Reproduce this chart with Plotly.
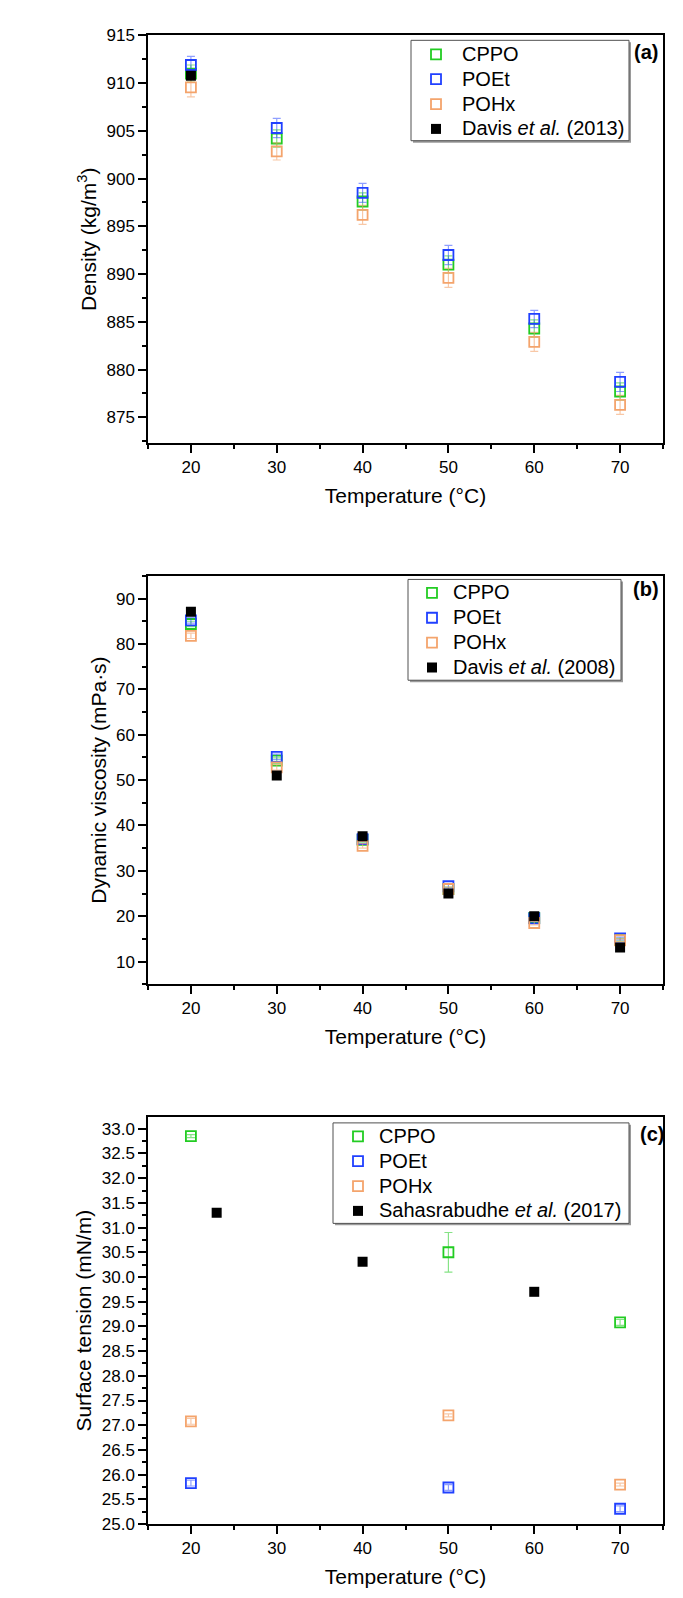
import plotly.graph_objects as go

# ---------------- data ----------------
temps = [20, 30, 40, 50, 60, 70]

# (a) Density (kg/m3)
dens_cppo = [911.0, 904.2, 897.6, 891.0, 884.3, 877.7]
dens_poet = [911.9, 905.3, 898.5, 892.0, 885.3, 878.7]
dens_pohx = [909.55, 902.85, 896.2, 889.6, 882.9, 876.3]
dens_err_cppo = [0.9, 0.9, 0.9, 0.9, 0.9, 0.9]
dens_err_poet = [0.9, 1.0, 1.0, 1.0, 0.9, 1.0]
dens_err_pohx = [1.0, 0.9, 1.0, 1.0, 1.0, 1.0]
davis2013_t = [20]
davis2013_v = [910.76]

# (b) Dynamic viscosity (mPa·s)
visc_cppo = [84.4, 54.3, 36.8, 26.0, 19.6, 14.8]
visc_poet = [85.2, 55.1, 37.0, 26.6, 19.5, 15.1]
visc_pohx = [81.8, 52.8, 35.5, 26.0, 18.5, 14.7]
visc_err = [0.6, 0.6, 0.5, 0.4, 0.4, 0.3]
davis2008_t = [20, 30, 40, 50, 60, 70]
davis2008_v = [87.1, 51.0, 37.6, 25.0, 20.0, 13.1]

# (c) Surface tension (mN/m)
st_temps = [20, 50, 70]
st_cppo = [32.85, 30.5, 29.08]
st_poet = [25.83, 25.74, 25.31]
st_pohx = [27.08, 27.2, 25.8]
st_err_cppo = [0.03, 0.4, 0.06]
st_err_poet = [0.06, 0.06, 0.06]
st_err_pohx = [0.06, 0.03, 0.03]
sahas_t = [23, 40, 60]
sahas_v = [31.3, 30.31, 29.7]

names = ["CPPO", "POEt", "POHx"]
colors = ["#22CC22", "#2040FF", "#F4A46C"]
err_colors = ["rgba(34,204,34,0.55)", "rgba(32,64,255,0.5)", "rgba(244,164,108,0.6)"]

FONT = "Arial, Liberation Sans, sans-serif"
W, H = 683, 1598


def big(txt):
    return '<span style="font-size:20px">' + txt + '</span>'


fig = go.Figure()

panels = [
    dict(xa="x", ya="y", lg="legend",
         series=[dens_cppo, dens_poet, dens_pohx],
         errs=[dens_err_cppo, dens_err_poet, dens_err_pohx],
         xs=temps, ref_x=davis2013_t, ref_y=davis2013_v,
         ref_name="Davis <i>et al.</i> (2013)"),
    dict(xa="x2", ya="y2", lg="legend2",
         series=[visc_cppo, visc_poet, visc_pohx],
         errs=[visc_err, visc_err, visc_err],
         xs=temps, ref_x=davis2008_t, ref_y=davis2008_v,
         ref_name="Davis <i>et al.</i> (2008)"),
    dict(xa="x3", ya="y3", lg="legend3",
         series=[st_cppo, st_poet, st_pohx],
         errs=[st_err_cppo, st_err_poet, st_err_pohx],
         xs=st_temps, ref_x=sahas_t, ref_y=sahas_v,
         ref_name="Sahasrabudhe <i>et al.</i> (2017)"),
]

for p in panels:
    for i in range(3):
        fig.add_trace(go.Scatter(
            x=p["xs"], y=p["series"][i], mode="markers", name=big(names[i]),
            xaxis=p["xa"], yaxis=p["ya"], legend=p["lg"],
            marker=dict(symbol="square-open", size=10, color=colors[i],
                        line=dict(width=1.8, color=colors[i])),
            error_y=dict(type="data", array=p["errs"][i], visible=True,
                         color=err_colors[i], thickness=1.2, width=4),
        ))
    fig.add_trace(go.Scatter(
        x=p["ref_x"], y=p["ref_y"], mode="markers", name=big(p["ref_name"]),
        xaxis=p["xa"], yaxis=p["ya"], legend=p["lg"],
        marker=dict(symbol="square", size=10, color="black",
                    line=dict(width=0)),
    ))


def px_dom_y(top, bottom):
    return [1 - bottom / H, 1 - top / H]


xdom = [148 / W, 663 / W]


def xaxis_cfg(anchor):
    return dict(
        domain=xdom, anchor=anchor, range=[15, 75], dtick=10, tick0=0,
        ticks="outside", ticklen=8, tickwidth=1.5, tickcolor="black",
        showline=True, linecolor="black", linewidth=1.5, mirror=True,
        showgrid=False, zeroline=False,
        tickfont=dict(size=17, color="black", family=FONT),
        minor=dict(ticks="outside", ticklen=4, dtick=5, tickcolor="black",
                   tickwidth=1.5),
        title=dict(text="Temperature (°C)", font=dict(size=21, color="black", family=FONT),
                   standoff=12),
    )


def yaxis_cfg(anchor, dom, rng, dtick, mdtick, title, fmt=None):
    d = dict(
        domain=dom, anchor=anchor, range=rng, dtick=dtick, tick0=0,
        ticks="outside", ticklen=8, tickwidth=1.5, tickcolor="black",
        showline=True, linecolor="black", linewidth=1.5, mirror=True,
        showgrid=False, zeroline=False,
        tickfont=dict(size=17, color="black", family=FONT),
        minor=dict(ticks="outside", ticklen=4, dtick=mdtick, tickcolor="black",
                   tickwidth=1.5),
        title=dict(text=title, font=dict(size=21, color="black", family=FONT),
                   standoff=4),
    )
    if fmt:
        d["tickformat"] = fmt
    return d


def legend_cfg(text_x, first_row_y, iw):
    # legend drawn without its own frame; a frame shape is drawn separately
    return dict(
        x=(text_x - iw - 12) / W, y=1 - (first_row_y - 18.4) / H,
        xanchor="left", yanchor="top",
        font=dict(size=16.8, color="black", family=FONT),
        bgcolor="rgba(0,0,0,0)", borderwidth=0,
        tracegroupgap=0, itemwidth=iw,
    )


# legend frames (pixel boxes) with a soft drop shadow
boxes = [(411, 31.7, 629, 133.3), (408, 577.3, 621, 679.3), (333, 1127.3, 629, 1229)]
shapes = []
for x0, y0, x1, y1 in boxes:
    shapes.append(dict(type="rect", xref="paper", yref="paper", layer="above",
                       x0=(x0 + 2) / W, x1=(x1 + 2) / W,
                       y0=1 - (y1 + 2) / H, y1=1 - (y0 + 2) / H,
                       fillcolor="#9a9a9a", line=dict(width=0)))
    shapes.append(dict(type="rect", xref="paper", yref="paper", layer="above",
                       x0=x0 / W, x1=x1 / W, y0=1 - y1 / H, y1=1 - y0 / H,
                       fillcolor="white", line=dict(width=1, color="#505050")))

fig.update_layout(
    width=W, height=H,
    margin=dict(l=0, r=0, t=0, b=0),
    paper_bgcolor="white", plot_bgcolor="white",
    font=dict(family=FONT, color="black"),
    xaxis=xaxis_cfg("y"),
    yaxis=yaxis_cfg("x", px_dom_y(26.7, 439.3), [872.3, 915], 5, 2.5,
                    "Density (kg/m<sup>3</sup>)"),
    xaxis2=xaxis_cfg("y2"),
    yaxis2=yaxis_cfg("x2", px_dom_y(573.7, 987), [5, 95], 10, 5,
                     "Dynamic viscosity (mPa·s)"),
    xaxis3=xaxis_cfg("y3"),
    yaxis3=yaxis_cfg("x3", px_dom_y(1121.7, 1533.3), [25, 33.23], 0.5, 0.25,
                     "Surface tension (mN/m)", fmt=".1f"),
    legend=legend_cfg(464, 46.7, 42),
    legend2=legend_cfg(455, 591.7, 32),
    legend3=legend_cfg(381, 1141.7, 32),
    shapes=shapes,
    showlegend=True,
)

for label, xc, yc in [("(a)", 646, 43.3), ("(b)", 646, 586.7), ("(c)", 652, 1139)]:
    fig.add_annotation(
        text="<b>" + label + "</b>", x=xc / W, y=1 - yc / H, xref="paper", yref="paper",
        xanchor="center", yanchor="middle", showarrow=False,
        font=dict(size=20, color="black", family=FONT),
    )

fig.write_html("out.html")
